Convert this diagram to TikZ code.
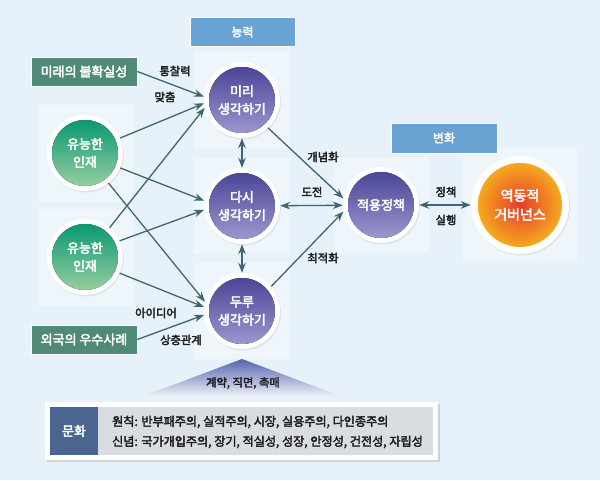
\documentclass[tikz,border=0pt]{standalone}
\usepackage{fontspec}
\setmainfont{Noto Sans CJK KR}[FakeBold=3]
\usetikzlibrary{arrows.meta,shadows}
\definecolor{bgc}{HTML}{E6F1FA}
\definecolor{panel}{HTML}{EEF6FC}
\definecolor{hdr}{HTML}{69A3D4}
\definecolor{teal}{HTML}{4E8A77}
\definecolor{arr}{HTML}{3F6572}
\definecolor{purpT}{HTML}{4B4696}
\definecolor{purpB}{HTML}{9C97CE}
\definecolor{grnT}{HTML}{0A9873}
\definecolor{grnB}{HTML}{95CE9E}
\definecolor{orIn}{HTML}{E63B2A}
\definecolor{orOut}{HTML}{F6A91F}
\definecolor{culture}{HTML}{4A6590}
\definecolor{graybox}{HTML}{D9DDE1}
\definecolor{triT}{HTML}{5463AE}
\definecolor{ink}{HTML}{1E1E1E}
\tikzset{
  ring/.style={circle,fill=white,minimum size=76pt,inner sep=0pt,drop shadow={opacity=0.15,shadow xshift=1pt,shadow yshift=-1.5pt}},
  bigring/.style={circle,fill=white,minimum size=98pt,inner sep=0pt,drop shadow={opacity=0.15,shadow xshift=1pt,shadow yshift=-1.5pt}},
  ctext/.style={text=white,font=\fontsize{13}{18}\selectfont,align=center},
  hdrbox/.style={fill=hdr,draw=white,line width=0.6pt,text=white,font=\fontsize{12}{13}\selectfont,minimum width=105pt,minimum height=29pt},
  srcbox/.style={fill=teal,draw=white,line width=0.6pt,text=white,font=\fontsize{13}{14}\selectfont,minimum width=106pt,minimum height=29pt},
  lbl/.style={text=ink,font=\fontsize{11.3}{13}\selectfont,inner sep=1pt},
  conn/.style={draw=arr,line width=1.3pt,-{Stealth[length=10pt,width=7.5pt]}},
  dconn/.style={draw=arr,line width=1.3pt,{Stealth[length=10pt,width=7.5pt]}-{Stealth[length=10pt,width=7.5pt]}},
}
\newcommand{\purpdisc}[1]{\fill[top color=purpT,bottom color=purpB] (#1) circle (33pt);}
\newcommand{\grndisc}[1]{\fill[top color=grnT,bottom color=grnB] (#1) circle (33pt);}
\begin{document}
\begin{tikzpicture}[x=1pt,y=1pt]
\useasboundingbox (0,0) rectangle (600,480);
\fill[bgc] (0,0) rectangle (600,480);
% subtle panels
\foreach \p in {(242,380),(242,274),(242,169),(85,327),(85,223),(381,275)}
  \fill[panel] \p ++(-48,-48) rectangle ++(96,96);
\fill[panel] (520,275) ++(-57,-57) rectangle ++(114,114);
% header boxes
\node[hdrbox] (hcap) at (242.5,448) {능력};
\node[hdrbox,minimum width=106pt,minimum height=30pt] (hchg) at (444,342) {변화};
% source boxes
\node[srcbox] (mirae) at (84,408.5) {미래의 불확실성};
\node[srcbox] (oeguk) at (84,140.5) {외국의 우수사례};
% circles
\node[ring] (miri) at (242,380) {};
\node[ring] (dasi) at (242,274) {};
\node[ring] (duru) at (242,169) {};
\node[ring] (t1) at (85,327) {};
\node[ring] (t2) at (85,223) {};
\node[ring] (pol) at (381,275) {};
\node[bigring] (gov) at (520,275) {};
\purpdisc{miri}\purpdisc{dasi}\purpdisc{duru}\purpdisc{pol}
\grndisc{t1}\grndisc{t2}
\shade[inner color=orIn,outer color=orOut] (gov) circle (42pt);
\node[ctext] at (miri) {미리\\생각하기};
\node[ctext] at (dasi) {다시\\생각하기};
\node[ctext] at (duru) {두루\\생각하기};
\node[ctext] at (t1) {유능한\\인재};
\node[ctext] at (t2) {유능한\\인재};
\node[ctext] at (pol) {적용정책};
\node[ctext,font=\fontsize{14}{19}\selectfont] at (gov) {역동적\\거버넌스};
% connectors
\draw[conn] (mirae.east) -- (miri.175);
\draw[conn] (t1.23) -- (miri.185);
\draw[conn] (t1.-23) -- (dasi.172);
\draw[conn] (t1.-52) -- (duru.166);
\draw[conn] (t2.50) -- (miri.192);
\draw[conn] (t2.25) -- (dasi.186);
\draw[conn] (t2.-25) -- (duru.174);
\draw[conn] (oeguk.east) -- (duru.186);
\draw[dconn] (miri) -- (dasi);
\draw[dconn] (dasi) -- (duru);
\draw[conn] (miri.-47) -- (pol.170);
\draw[dconn] (dasi) -- (pol);
\draw[conn] (duru.40) -- (pol.190);
\draw[dconn] (pol) -- (gov);
% labels
\node[lbl] (l1) at (175,409) {통찰력};
\node[lbl] (l2) at (165,383) {맞춤};
\node[lbl] (l3) at (323,323) {개념화};
\node[lbl] (l4) at (312,288) {도전};
\node[lbl] (l5) at (323,222) {최적화};
\node[lbl] (l6) at (446,288) {정책};
\node[lbl] (l7) at (446,260) {실행};
\node[lbl] (l8) at (156,167) {아이디어};
\node[lbl] (l9) at (181,140) {상충관계};
% triangle
\shade[top color=triT,bottom color=white!92!triT] (242,121) -- (343,83) -- (141,83) -- cycle;
\node[lbl] (l10) at (243,97) {계약, 직면, 촉매};
% culture box
\fill[white,drop shadow={opacity=0.25,shadow xshift=1.5pt,shadow yshift=-1.5pt}] (45,20) rectangle (438,78);
\fill[graybox] (98,25) rectangle (433,73);
\node[fill=culture,minimum width=48pt,minimum height=48pt,inner sep=0pt,text=white,font=\fontsize{13}{14}\selectfont] (mh) at (74,49) {문화};
\node[anchor=west,inner sep=0pt,text=ink,font=\fontsize{12.1}{14}\selectfont] (r1) at (112,58) {원칙: 반부패주의, 실적주의, 시장, 실용주의, 다인종주의};
\node[anchor=west,inner sep=0pt,text=ink,font=\fontsize{12.1}{14}\selectfont] (r2) at (112,38) {신념: 국가개입주의, 장기, 적실성, 성장, 안정성, 건전성, 자립성};
\end{tikzpicture}
\end{document}
